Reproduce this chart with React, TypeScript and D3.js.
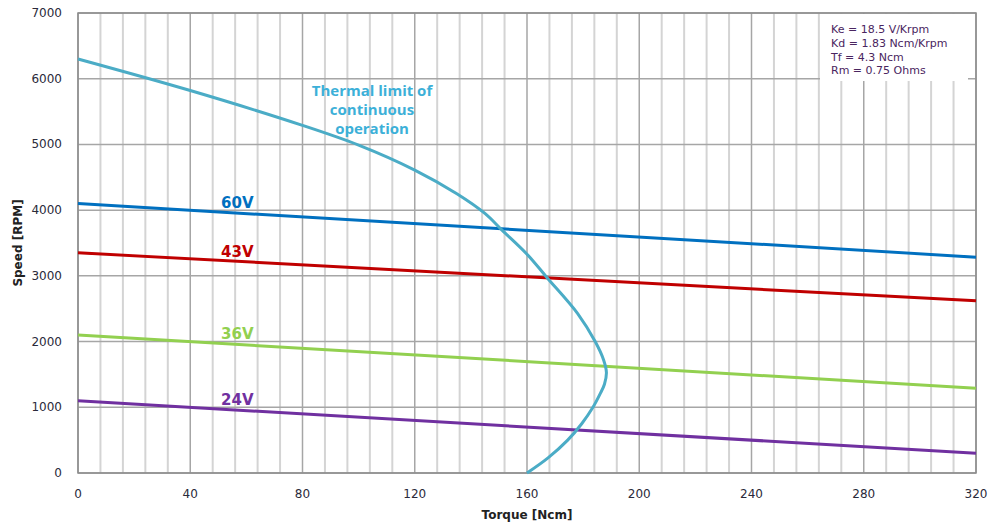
import React from "react";
import * as d3 from "d3";

const xTicks = [0, 40, 80, 120, 160, 200, 240, 280, 320];
const yTicks = [0, 1000, 2000, 3000, 4000, 5000, 6000, 7000];
const minorX = d3.range(0, 321, 8);

const voltages = ["60V", "43V", "36V", "24V"];
const speedAt0 = [4100, 3350, 2100, 1100];
const speedAt320 = [3285, 2620, 1290, 300];
const lineColors = ["#0070c0", "#c00000", "#92d050", "#7030a0"];
const labelTorque = 51;

const thermalTorque = [0, 40, 80, 100, 120, 135, 145, 151, 160, 167, 178, 184.3, 187.3, 188.3, 187.6, 186, 183.5, 179.5, 174.5, 167.5, 160];
const thermalSpeed = [6300, 5820, 5290, 4990, 4610, 4250, 3950, 3700, 3330, 2980, 2430, 2000, 1720, 1530, 1350, 1200, 1000, 750, 500, 230, 0];

const params = ["Ke = 18.5 V/Krpm", "Kd = 1.83 Ncm/Krpm", "Tf = 4.3 Ncm", "Rm = 0.75 Ohms"];

export default function App() {
  const W = 991, H = 528;
  const x = d3.scaleLinear().domain([0, 320]).range([78, 976]);
  const y = d3.scaleLinear().domain([0, 7000]).range([473, 13]);
  const line = d3.line<[number, number]>().x(d => x(d[0])).y(d => y(d[1]));
  const curve = d3.line<[number, number]>().x(d => x(d[0])).y(d => y(d[1])).curve(d3.curveCatmullRom.alpha(0.5));
  const thermal: [number, number][] = thermalTorque.map((t, i) => [t, thermalSpeed[i]]);
  const font = "'DejaVu Sans', Verdana, sans-serif";
  return (
    <svg width={W} height={H} style={{ position: "absolute", left: 0, top: 0, background: "#fff" }}>
      <rect x={0} y={0} width={W} height={H} fill="#fff" />
      {minorX.filter(v => v % 40 !== 0).map(v => (
        <line key={"mx" + v} x1={x(v)} x2={x(v)} y1={y(0)} y2={y(7000)} stroke="#d4d4d4" strokeWidth={2} />
      ))}
      {xTicks.map(v => (
        <line key={"gx" + v} x1={x(v)} x2={x(v)} y1={y(0)} y2={y(7000)} stroke="#a6a6a6" strokeWidth={1.5} />
      ))}
      {yTicks.map(v => (
        <line key={"gy" + v} x1={x(0)} x2={x(320)} y1={y(v)} y2={y(v)} stroke="#a6a6a6" strokeWidth={1.5} />
      ))}
      <rect x={x(0)} y={y(7000)} width={x(320) - x(0)} height={y(0) - y(7000)} fill="none" stroke="#8c8c8c" strokeWidth={1.5} />
      <rect x={820} y={14} width={148} height={67} fill="#fff" />
      {params.map((p, i) => (
        <text key={p} x={831} y={33 + i * 13.8} fontFamily={font} fontSize={11} fill="#4a2560">{p}</text>
      ))}
      {voltages.map((v, i) => (
        <path key={v} d={line([[0, speedAt0[i]], [320, speedAt320[i]]]) || ""} fill="none" stroke={lineColors[i]} strokeWidth={3} />
      ))}
      <path d={curve(thermal) || ""} fill="none" stroke="#4bacc6" strokeWidth={3} />
      {voltages.map((v, i) => {
        const s = speedAt0[i] + (speedAt320[i] - speedAt0[i]) * labelTorque / 320;
        return (
          <text key={"l" + v} x={x(labelTorque)} y={y(s) - 4} fontFamily={font} fontWeight="bold" fontSize={15} fill={lineColors[i]}>{v}</text>
        );
      })}
      {["Thermal limit of", "continuous", "operation"].map((t, i) => (
        <text key={t} x={372} y={96 + i * 19} textAnchor="middle" fontFamily="'Open Sans', sans-serif" fontWeight="bold" fontSize={15} fill="#3cb0d8">{t}</text>
      ))}
      {xTicks.map(v => (
        <text key={"tx" + v} x={x(v)} y={498} textAnchor="middle" fontFamily={font} fontSize={12} fill="#2a2a3a">{v}</text>
      ))}
      {yTicks.map(v => (
        <text key={"ty" + v} x={62} y={y(v) + 4} textAnchor="end" fontFamily={font} fontSize={12} fill="#2a2a3a">{v}</text>
      ))}
      <text x={527} y={519} textAnchor="middle" fontFamily={font} fontWeight="bold" fontSize={12} fill="#222">Torque [Ncm]</text>
      <text transform={`translate(22,243) rotate(-90)`} textAnchor="middle" fontFamily={font} fontWeight="bold" fontSize={12} fill="#222">Speed [RPM]</text>
    </svg>
  );
}
